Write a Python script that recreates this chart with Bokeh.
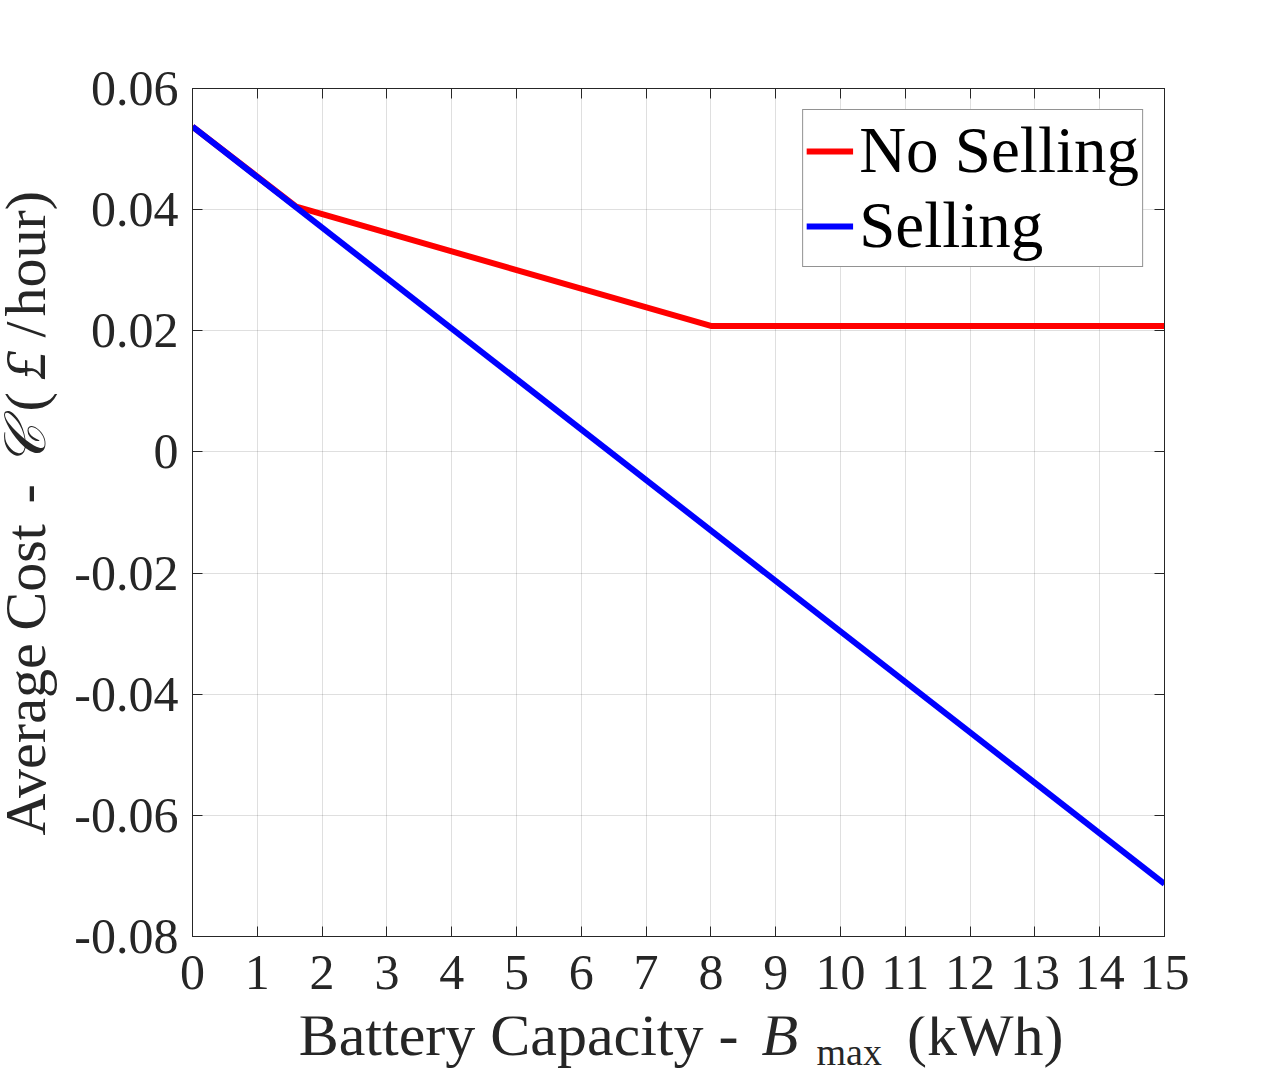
import math

from bokeh.embed import file_html
from bokeh.layouts import column, row
from bokeh.core.properties import value
from bokeh.models import (ColumnDataSource, CustomLabelingPolicy, FixedTicker,
                          Legend, LegendItem, LinearAxis, Range1d)
from bokeh.plotting import figure
from bokeh.resources import INLINE

# Average cost versus battery capacity, with and without selling to the grid
capacity_no_selling = [0.0, 1.6, 8.0, 15.0]
cost_no_selling = [0.0537, 0.0405, 0.0208, 0.0208]

capacity_selling = [0.0, 15.0]
cost_selling = [0.0537, -0.0713]

x_ticks = list(range(0, 16))
y_ticks = [-0.08, -0.06, -0.04, -0.02, 0.0, 0.02, 0.04, 0.06]
y_tick_labels = ["-0.08", "-0.06", "-0.04", "-0.02", "0", "0.02", "0.04", "0.06"]

FONT = "Liberation Serif"
INK = "#262626"

# page geometry (pixels): plot box spans x 192..1164, y 88..936
BOX_L, BOX_R, BOX_T, BOX_B = 192, 1164, 88, 936
PAGE_W, PAGE_H = 1286, 1073
YLAB_W = 70                      # strip on the left for the rotated y title
MAIN_BOTTOM = 80                 # room under the box for x tick labels
XLAB_H = PAGE_H - BOX_B - MAIN_BOTTOM

p = figure(
    frame_width=BOX_R - BOX_L, frame_height=BOX_B - BOX_T,
    min_border_left=BOX_L - YLAB_W, min_border_right=PAGE_W - BOX_R,
    min_border_top=BOX_T, min_border_bottom=MAIN_BOTTOM,
    x_range=Range1d(0, 15), y_range=Range1d(-0.08, 0.06),
    output_backend="svg", toolbar_location=None,
    background_fill_color="white", border_fill_color="white",
    outline_line_color=INK, outline_line_width=1,
)

src_ns = ColumnDataSource(dict(x=capacity_no_selling, y=cost_no_selling))
src_s = ColumnDataSource(dict(x=capacity_selling, y=cost_selling))
r_ns = p.line("x", "y", source=src_ns, line_color="#ff0000", line_width=6)
r_s = p.line("x", "y", source=src_s, line_color="#0000ff", line_width=6)


def style_axis(ax):
    ax.axis_line_color = INK
    ax.major_tick_line_color = INK
    ax.major_tick_in = 10
    ax.major_tick_out = 0
    ax.minor_tick_line_color = None
    ax.major_label_text_font = FONT
    ax.major_label_text_color = INK
    ax.major_label_text_font_size = "50px"


xa = p.xaxis[0]
xa.ticker = FixedTicker(ticks=x_ticks)
xa.major_label_standoff = 19
style_axis(xa)

ya = p.yaxis[0]
ya.ticker = FixedTicker(ticks=y_ticks)
ya.major_label_overrides = {t: s for t, s in zip(y_ticks, y_tick_labels)}
ya.major_label_standoff = 14
style_axis(ya)

# box axes on the top and right: inward ticks only, no tick labels
no_labels = CustomLabelingPolicy(
    code="for (const i of Array.from(indices)) { indices.unset(i) } return indices")
top = LinearAxis(ticker=FixedTicker(ticks=x_ticks), major_label_policy=no_labels)
style_axis(top)
p.add_layout(top, "above")
right = LinearAxis(ticker=FixedTicker(ticks=y_ticks), major_label_policy=no_labels)
style_axis(right)
p.add_layout(right, "right")

p.xgrid.ticker = FixedTicker(ticks=x_ticks)
p.ygrid.ticker = FixedTicker(ticks=y_ticks)
for g in (p.xgrid[0], p.ygrid[0]):
    g.grid_line_color = INK
    g.grid_line_alpha = 0.15
    g.grid_line_width = 1

legend = Legend(
    items=[LegendItem(label="No Selling", renderers=[r_ns]),
           LegendItem(label="Selling", renderers=[r_s])],
    location="top_right", margin=21, padding=3, spacing=0,
    glyph_width=47, glyph_height=20, label_standoff=6,
    label_text_font=FONT, label_text_font_size="65px", label_text_color="black",
    border_line_color=INK, border_line_width=1,
    background_fill_color="white", background_fill_alpha=1.0,
)
p.add_layout(legend)


def text_strip(fw, fh, bl, br, bt, bb, xr, yr):
    # a blank panel whose ranges are page pixel coordinates (y grows downward)
    f = figure(frame_width=fw, frame_height=fh,
               min_border_left=bl, min_border_right=br,
               min_border_top=bt, min_border_bottom=bb,
               x_range=Range1d(*xr), y_range=Range1d(*yr),
               output_backend="svg", toolbar_location=None,
               outline_line_color=None, background_fill_color="white",
               border_fill_color="white")
    f.axis.visible = False
    f.grid.visible = False
    return f


def put(f, x, y, txt, size, align, style="normal", angle=0.0):
    f.text(x=[x], y=[y], text=[txt], angle=angle, text_align=align,
           text_baseline="alphabetic", text_font=value(FONT),
           text_font_style=style, text_font_size=size, text_color=INK)


# x title: "Battery Capacity - B_max (kWh)"
XL = "60px"
xt = text_strip(BOX_R - BOX_L, XLAB_H, BOX_L - YLAB_W, PAGE_W - BOX_R, 0, 0,
                (BOX_L, BOX_R), (PAGE_H, PAGE_H - XLAB_H))
x_base, sub_base = 1034, 1051
put(xt, 738, x_base, "Battery Capacity -", XL, "right")
put(xt, 761, x_base, "B", XL, "left", style="italic")
put(xt, 816, sub_base, "max", "38px", "left")
put(xt, 1063, x_base, "(kWh)", XL, "right")

# y title: "Average Cost - C (£/hour)", reading bottom to top
YL = "58px"
yt = text_strip(YLAB_W, BOX_B - BOX_T, 0, 0, BOX_T, PAGE_H - BOX_B,
                (0, YLAB_W), (BOX_B, BOX_T))
rot = math.pi / 2
bx = 25
put(yt, bx, 835, "Average", YL, "left", angle=rot)
put(yt, bx, 630, "Cost", YL, "left", angle=rot)
put(yt, bx, 503, "-", YL, "left", angle=rot)
put(yt, bx, 445, "\U0001D49E", YL, "center", style="italic", angle=rot)
put(yt, bx, 411, "(", YL, "left", angle=rot)
put(yt, bx, 365, "\u00a3", YL, "center", style="italic", angle=rot)
put(yt, bx, 337, "/", YL, "left", angle=rot)
put(yt, bx, 316, "hour)", YL, "left", angle=rot)

layout = row(yt, column(p, xt, spacing=0), spacing=0)

open("out.html", "w").write(file_html(layout, INLINE))
